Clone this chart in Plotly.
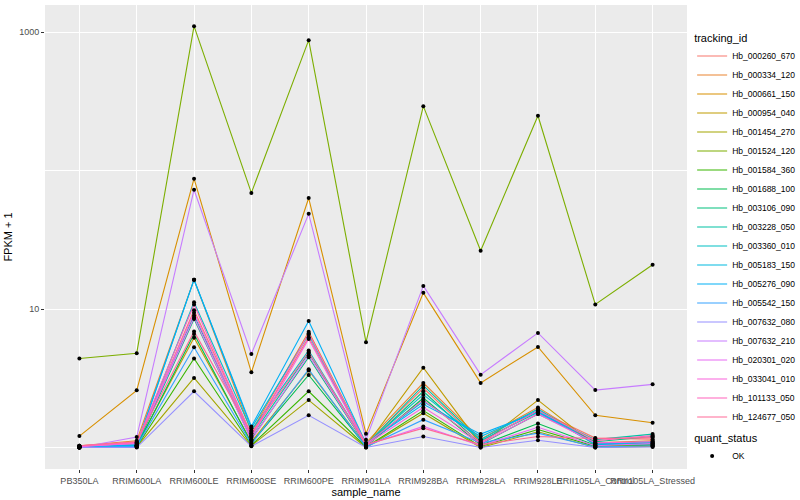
import math
import plotly.graph_objects as go

samples = ["PB350LA", "RRIM600LA", "RRIM600LE", "RRIM600SE", "RRIM600PE", "RRIM901LA",
           "RRIM928BA", "RRIM928LA", "RRIM928LE", "RRII105LA_Control", "RRII105LA_Stressed"]

tracking_ids = ["Hb_000260_670", "Hb_000334_120", "Hb_000661_150", "Hb_000954_040",
                "Hb_001454_270", "Hb_001524_120", "Hb_001584_360", "Hb_001688_100",
                "Hb_003106_090", "Hb_003228_050", "Hb_003360_010", "Hb_005183_150",
                "Hb_005276_090", "Hb_005542_150", "Hb_007632_080", "Hb_007632_210",
                "Hb_020301_020", "Hb_033041_010", "Hb_101133_050", "Hb_124677_050"]

# FPKM + 1 per sample (same order as samples)
hb_000260_670 = [1.02, 1.06, 9.8, 1.25, 6.27, 1.05, 2.69, 1.10, 1.85, 1.17, 1.15]
hb_000334_120 = [1.03, 1.12, 16.3, 1.30, 6.85, 1.08, 2.93, 1.15, 1.95, 1.08, 1.12]
hb_000661_150 = [1.21, 2.59, 87.5, 3.49, 63.4, 1.26, 13.1, 2.93, 5.33, 1.71, 1.51]
hb_000954_040 = [1.00, 1.04, 6.2, 1.10, 3.60, 1.03, 3.77, 1.05, 2.20, 1.03, 1.05]
hb_001454_270 = [1.00, 1.01, 3.18, 1.03, 2.20, 1.00, 1.77, 1.00, 1.30, 1.00, 1.02]
hb_001524_120 = [4.4, 4.8, 1105, 69, 875, 5.77, 292, 26.4, 249, 10.8, 20.9]
hb_001584_360 = [1.00, 1.01, 4.4, 1.04, 2.55, 1.01, 1.85, 1.02, 1.35, 1.02, 1.04]
hb_001688_100 = [1.01, 1.02, 6.6, 1.08, 3.34, 1.02, 2.28, 1.04, 1.49, 1.04, 1.08]
hb_003106_090 = [1.01, 1.03, 8.47, 1.15, 4.49, 1.03, 2.55, 1.06, 1.75, 1.10, 1.20]
hb_003228_050 = [1.01, 1.03, 9.0, 1.20, 4.82, 1.04, 2.81, 1.12, 1.80, 1.14, 1.25]
hb_003360_010 = [1.01, 1.04, 11.2, 1.33, 5.02, 1.05, 2.41, 1.14, 1.90, 1.06, 1.10]
hb_005183_150 = [1.00, 1.03, 16.3, 1.38, 6.55, 1.06, 2.15, 1.20, 1.85, 1.05, 1.06]
hb_005276_090 = [1.00, 1.05, 16.3, 1.42, 8.19, 1.07, 2.05, 1.25, 1.80, 1.07, 1.08]
hb_005542_150 = [1.00, 1.02, 5.3, 1.06, 3.67, 1.01, 1.59, 1.08, 1.27, 1.01, 1.03]
hb_007632_080 = [1.00, 1.00, 2.55, 1.02, 1.71, 1.00, 1.20, 1.00, 1.13, 1.00, 1.01]
hb_007632_210 = [1.00, 1.19, 72.8, 4.74, 48.7, 1.14, 14.7, 3.36, 6.73, 2.60, 2.86]
hb_020301_020 = [1.02, 1.07, 8.7, 1.13, 4.64, 1.04, 1.42, 1.03, 1.40, 1.03, 1.07]
hb_033041_010 = [1.02, 1.08, 9.4, 1.18, 6.09, 1.05, 1.95, 1.07, 1.75, 1.08, 1.10]
hb_101133_050 = [1.03, 1.09, 10.8, 1.22, 6.70, 1.06, 2.20, 1.09, 1.85, 1.12, 1.22]
hb_124677_050 = [1.03, 1.10, 6.9, 1.27, 4.90, 1.05, 1.38, 1.05, 1.20, 1.16, 1.18]

series = [hb_000260_670, hb_000334_120, hb_000661_150, hb_000954_040, hb_001454_270,
          hb_001524_120, hb_001584_360, hb_001688_100, hb_003106_090, hb_003228_050,
          hb_003360_010, hb_005183_150, hb_005276_090, hb_005542_150, hb_007632_080,
          hb_007632_210, hb_020301_020, hb_033041_010, hb_101133_050, hb_124677_050]

quant_status = "OK"


def hcl_hex(h, c=100.0, l=65.0):
    Xn, Yn, Zn = 95.047, 100.0, 108.883
    hr = math.radians(h)
    U, V = c * math.cos(hr), c * math.sin(hr)
    Y = Yn * ((l + 16) / 116) ** 3 if l > 8 else Yn * l / 903.3
    den = Xn + 15 * Yn + 3 * Zn
    un, vn = 4 * Xn / den, 9 * Yn / den
    u = U / (13 * l) + un
    v = V / (13 * l) + vn
    X = 9.0 * Y * u / (4 * v)
    Z = -X / 3 - 5 * Y + 3 * Y / v
    X, Y, Z = X / 100, Y / 100, Z / 100
    r = 3.240479 * X - 1.537150 * Y - 0.498535 * Z
    g = -0.969256 * X + 1.875992 * Y + 0.041556 * Z
    b = 0.055648 * X - 0.204043 * Y + 1.057311 * Z

    def gam(t):
        t = 12.92 * t if t <= 0.0031308 else 1.055 * t ** (1 / 2.4) - 0.055
        return max(0, min(255, round(t * 255)))
    return "#%02X%02X%02X" % (gam(r), gam(g), gam(b))


n = len(tracking_ids)
hues = [15 + 360 * i / n for i in range(n)]
colors = [hcl_hex(h) for h in hues]

FONT = "Liberation Sans, Arial, sans-serif"
fig = go.Figure()

for tid, vals, col in zip(tracking_ids, series, colors):
    fig.add_trace(go.Scatter(x=samples, y=vals, mode="lines", name=tid,
                             line=dict(color=col, width=1.1), legend="legend"))

all_x = [s for vals in series for s in samples]
all_y = [v for vals in series for v in vals]
fig.add_trace(go.Scatter(x=all_x, y=all_y, mode="markers", name=quant_status,
                         marker=dict(color="black", size=4, symbol="circle"),
                         legend="legend2"))

fig.update_layout(
    width=800, height=500,
    margin=dict(l=45, r=113, t=5, b=31, autoexpand=False),
    paper_bgcolor="white", plot_bgcolor="#EBEBEB",
    font=dict(family=FONT, size=9, color="#000000"),
    xaxis=dict(
        title=dict(text="sample_name", font=dict(size=11, color="black"), standoff=0),
        categoryorder="array", categoryarray=samples,
        range=[-0.6, len(samples) - 0.4], automargin=True,
        showgrid=True, gridcolor="white", gridwidth=1.1,
        tickangle=0, ticks="outside", ticklen=3, tickcolor="#333333",
        tickfont=dict(size=9, color="#4D4D4D"), zeroline=False, showline=False,
    ),
    yaxis=dict(
        title=dict(text="FPKM + 1", font=dict(size=11, color="black"), standoff=4),
        type="log", range=[-0.155, 3.196], automargin=True,
        tickvals=[10, 1000], ticktext=["10", "1000"],
        showgrid=True, gridcolor="white", gridwidth=1.1,
        minor=dict(tickvals=[1, 100], showgrid=True, gridcolor="white", gridwidth=0.55,
                   ticks=""),
        ticks="outside", ticklen=3, tickcolor="#333333",
        tickfont=dict(size=9, color="#4D4D4D"), zeroline=False, showline=False,
    ),
    legend=dict(
        title=dict(text="tracking_id", font=dict(size=11)),
        x=1.008, xanchor="left", y=0.952, yanchor="top",
        font=dict(size=8.5, color="black"), tracegroupgap=0, bgcolor="white",
        itemwidth=30,
    ),
    legend2=dict(
        title=dict(text="quant_status", font=dict(size=11)),
        x=1.008, xanchor="left", y=0.09, yanchor="top",
        font=dict(size=8.5, color="black"), bgcolor="white", itemwidth=30,
    ),
)

fig.write_html("out.html", config={"displayModeBar": False},
               post_script="document.body.style.margin='0px';")
